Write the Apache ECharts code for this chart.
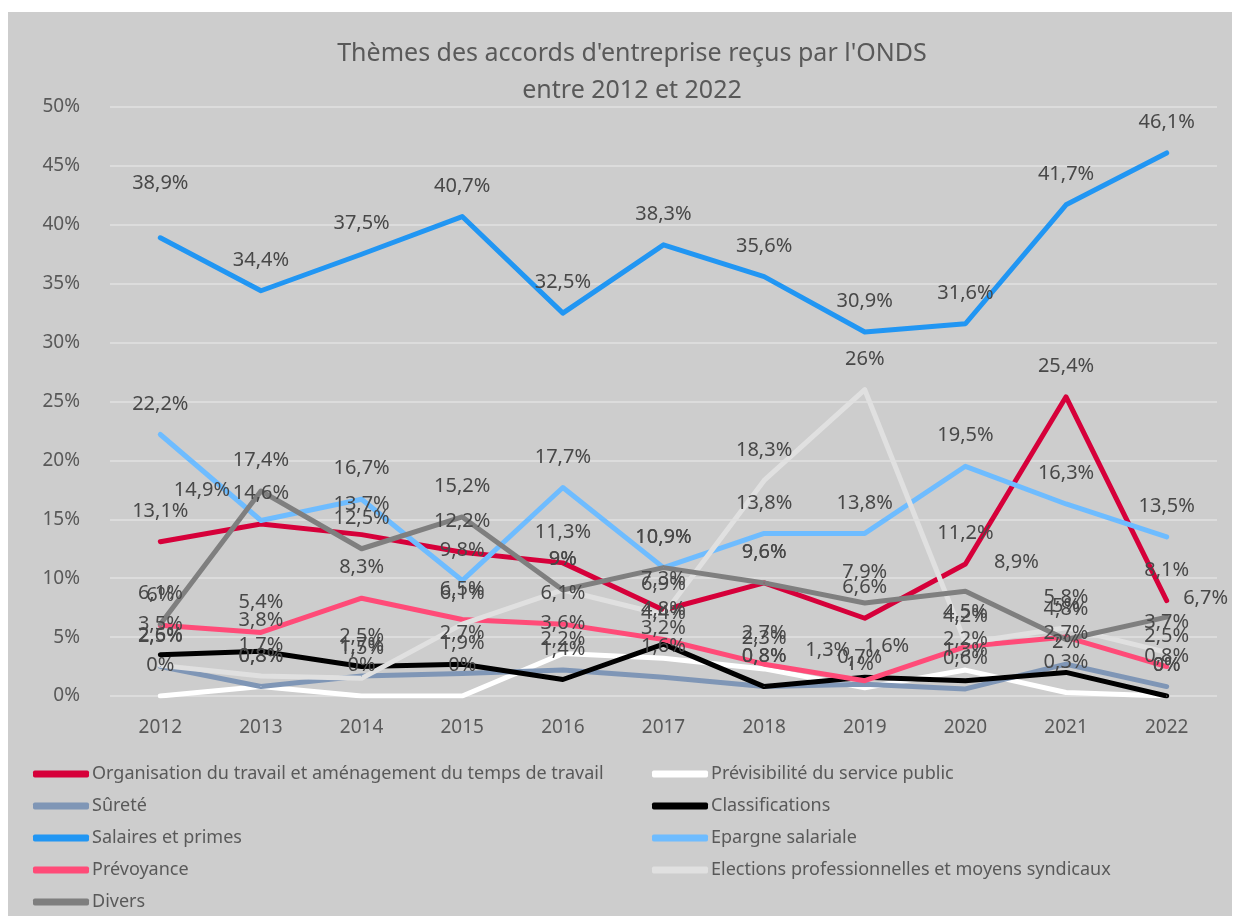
<!DOCTYPE html>
<html>
<head>
<meta charset="utf-8">
<title>Thèmes des accords d'entreprise</title>
<script src="https://cdn.jsdelivr.net/npm/echarts@6/dist/echarts.min.js"></script>
<style>
  html, body { margin: 0; padding: 0; background: #ffffff; }
  #panel { position: absolute; left: 8px; top: 12px; width: 1224px; height: 904px; background: #cdcdcd; }
  #chart { position: absolute; left: 0; top: 0; width: 1239px; height: 916px; }
</style>
</head>
<body>
<div id="panel"></div>
<div id="chart"></div>
<script>
// years on the x axis
const years = ['2012', '2013', '2014', '2015', '2016', '2017', '2018', '2019', '2020', '2021', '2022']

// share of agreements per theme (%)
const organisation = [13.1, 14.6, 13.7, 12.2, 11.3, 7.3, 9.6, 6.6, 11.2, 25.4, 8.1]
const previsibilite = [0, 0.8, 0, 0, 3.6, 3.2, 2.3, 0.7, 2.2, 0.3, 0]
const surete = [2.5, 0.8, 1.7, 1.9, 2.2, 1.6, 0.8, 1, 0.6, 2.7, 0.8]
const classifications = [3.5, 3.8, 2.5, 2.7, 1.4, 4.4, 0.8, 1.6, 1.3, 2, 0]
const salaires = [38.9, 34.4, 37.5, 40.7, 32.5, 38.3, 35.6, 30.9, 31.6, 41.7, 46.1]
const epargne = [22.2, 14.9, 16.7, 9.8, 17.7, 10.9, 13.8, 13.8, 19.5, 16.3, 13.5]
const prevoyance = [6, 5.4, 8.3, 6.5, 6.1, 4.8, 2.7, 1.3, 4.2, 5, 2.5]
const elections = [2.6, 1.7, 1.5, 6.1, 9, 6.9, 18.3, 26, 4.5, 5.8, 3.7]
const divers = [6.1, 17.4, 12.5, 15.2, 9, 10.9, 9.6, 7.9, 8.9, 4.8, 6.7]

const yTicks = { min: 0, max: 50, interval: 5 }

const themes = [
  { name: 'Organisation du travail et aménagement du temps de travail', data: organisation, color: '#d6003a' },
  { name: 'Prévisibilité du service public', data: previsibilite, color: '#ffffff' },
  { name: 'Sûreté', data: surete, color: '#7f96b6' },
  { name: 'Classifications', data: classifications, color: '#000000' },
  { name: 'Salaires et primes', data: salaires, color: '#2196f3' },
  { name: 'Epargne salariale', data: epargne, color: '#6ebcff' },
  { name: 'Prévoyance', data: prevoyance, color: '#ff4b78' },
  { name: 'Elections professionnelles et moyens syndicaux', data: elections, color: '#e0e0e0' },
  { name: 'Divers', data: divers, color: '#7f7f7f' }
]

// a few labels were dragged aside in the original chart
const labelMoves = {
  'Salaires et primes': { 0: { offset: [0, -24] } },
  'Epargne salariale': { 1: { offset: [-59, 0] } },
  'Prévoyance': { 7: { offset: [-37, 0] } },
  'Classifications': { 7: { offset: [22, 0] } },
  'Sûreté': { 7: { offset: [-5, 11] } },
  'Prévisibilité du service public': { 7: { offset: [-5, 0] } },
  'Divers': { 8: { position: 'right', offset: [8, -29] }, 10: { position: 'right', offset: [-4, -19] } }
}

const baseFont = '"Noto Sans", "Open Sans", sans-serif'
const pct = (v) => String(v).replace('.', ',') + '%'

const legendBase = {
  orient: 'vertical',
  icon: 'roundRect',
  itemWidth: 56,
  itemHeight: 7,
  itemGap: 12,
  padding: 0,
  selectedMode: false,
  textStyle: { color: '#595959', fontSize: 18, fontFamily: baseFont, lineHeight: 20, padding: [0, 0, 0, -2] }
}

const chart = echarts.init(document.getElementById('chart'))

chart.setOption({
  backgroundColor: 'transparent',
  animation: false,
  title: {
    text: "Thèmes des accords d'entreprise reçus par l'ONDS\nentre 2012 et 2022",
    left: 627,
    top: 30,
    textAlign: 'center',
    textStyle: {
      color: '#595959',
      fontSize: 25,
      fontWeight: 'normal',
      fontFamily: baseFont,
      lineHeight: 37
    }
  },
  legend: [
    {
      ...legendBase,
      left: 33,
      top: 764,
      data: [themes[0].name, themes[2].name, themes[4].name, themes[6].name, themes[8].name]
    },
    {
      ...legendBase,
      left: 652,
      top: 764,
      data: [themes[1].name, themes[3].name, themes[5].name, themes[7].name]
    }
  ],
  grid: { left: 110, right: 22, top: 107, bottom: 220, containLabel: false },
  xAxis: {
    type: 'category',
    data: years,
    boundaryGap: true,
    axisLine: { show: false },
    axisTick: { show: false },
    axisLabel: { color: '#595959', fontSize: 19, fontFamily: baseFont, margin: 22 }
  },
  yAxis: {
    type: 'value',
    min: yTicks.min,
    max: yTicks.max,
    interval: yTicks.interval,
    axisLine: { show: false },
    axisTick: { show: false },
    splitLine: { lineStyle: { color: '#dcdcdc', width: 2 } },
    axisLabel: {
      color: '#595959',
      fontSize: 19,
      fontFamily: baseFont,
      margin: 30,
      formatter: '{value}%'
    }
  },
  series: themes.map((t) => ({
    name: t.name,
    type: 'line',
    data: t.data.map((v, i) => {
      const move = (labelMoves[t.name] || {})[i]
      return move ? { value: v, label: move } : v
    }),
    symbol: 'circle',
    symbolSize: 1,
    color: t.color,
    itemStyle: { color: t.color },
    lineStyle: { color: t.color, width: 5, cap: 'round', join: 'round' },
    label: {
      show: true,
      position: 'top',
      distance: 20,
      color: '#484848',
      fontSize: 20,
      fontFamily: baseFont,
      formatter: (p) => pct(p.value)
    },
    emphasis: { disabled: true }
  }))
})
</script>
</body>
</html>
